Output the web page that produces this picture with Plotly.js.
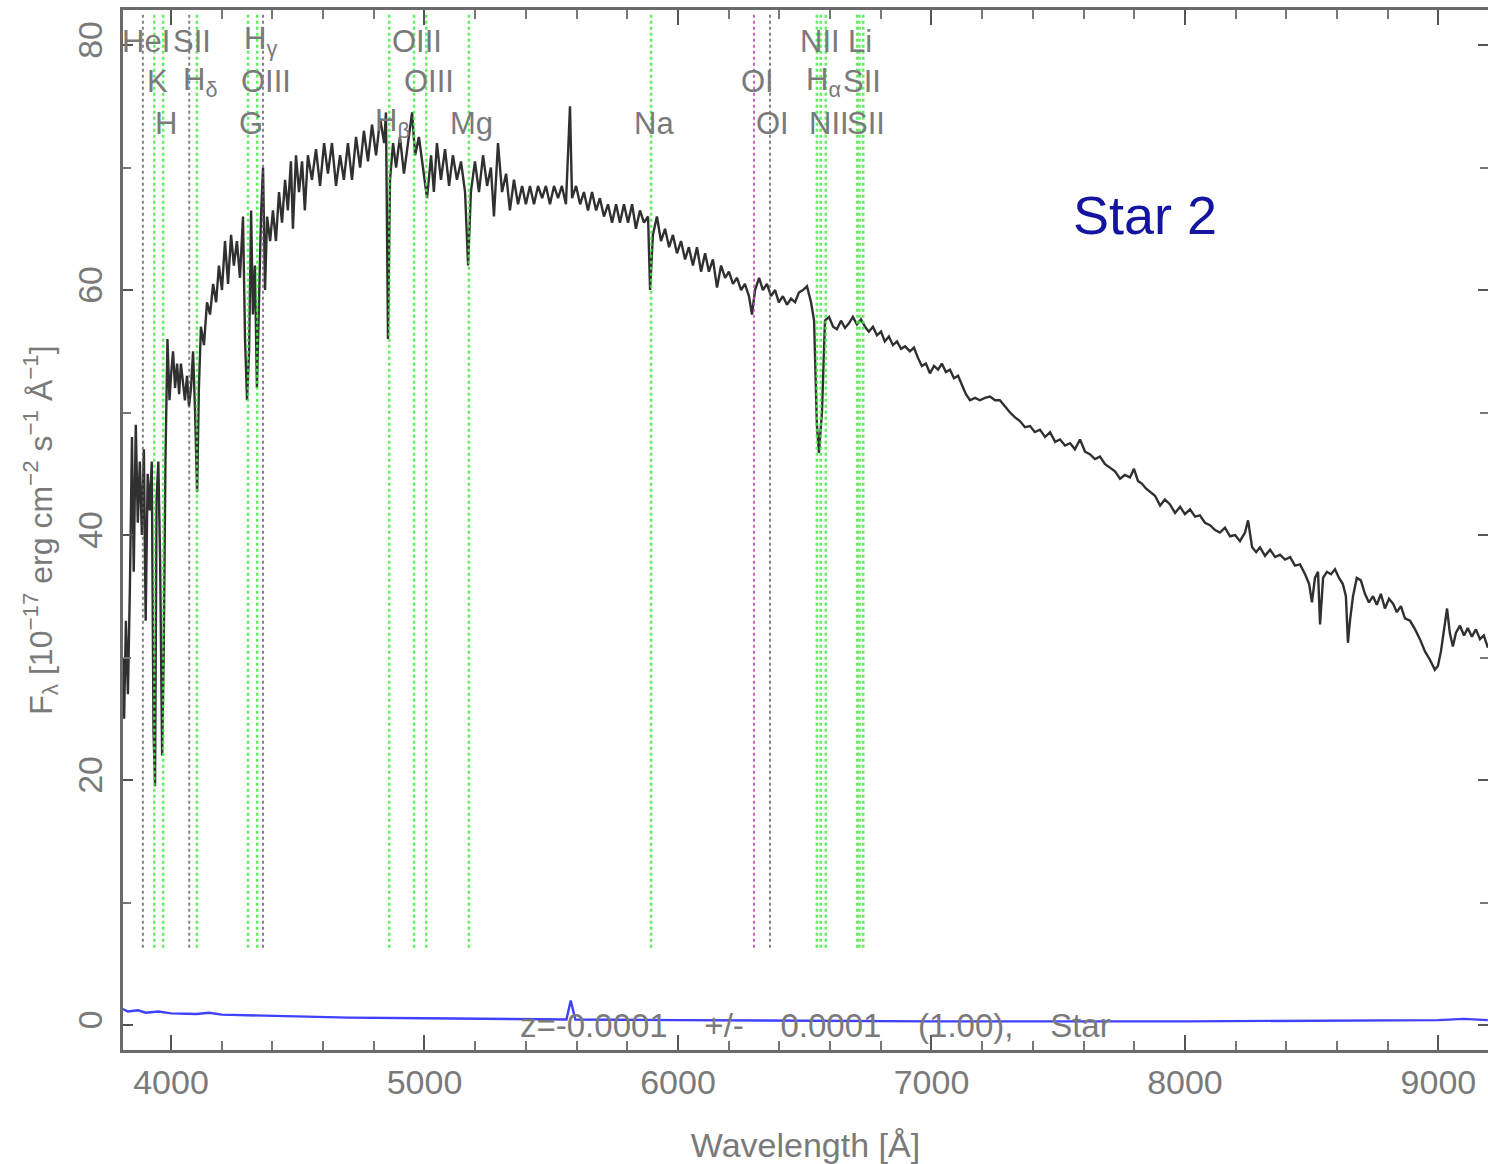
<!DOCTYPE html>
<html>
<head>
<meta charset="utf-8">
<script src="https://cdn.plot.ly/plotly-3.0.1.min.js"></script>
<style>
html,body{margin:0;padding:0;background:#fff;}
#chart{width:1488px;height:1164px;}
</style>
</head>
<body>
<div id="chart"></div>
<script>
// ---- Spectrum (wavelength in Å, flux in 1e-17 erg/cm2/s/Å) ----
const specWave = [3811,3815,3822,3830,3838,3846,3853,3861,3869,3877,3885,3893,3900,3908,3916,3924,3931,3937,3943,3950,3957,3965,3971,3978,3986,3994,
4000,4008,4016,4024,4032,4039,4047,4055,4063,4071,4079,4087,4095,4103,4110,4118,4130,4142,4154,4166,4178,4189,4201,4213,4225,4237,4248,4260,4272,4284,4292,4300,4308,4316,4323,4331,4339,4347,4355,4363,4371,4379,4391,4402,4414,4426,4438,4450,4461,4473,4481,4493,4505,4517,4528,4540,4556,4572,4588,4604,4619,4635,4651,4667,4682,4698,4714,4730,4746,4761,4777,4793,4809,4825,4841,4848,4856,4864,4876,4888,4903,4919,4935,4951,4963,4978,4994,5010,5026,5037,5049,5065,5081,5097,5112,5128,5144,5160,5172,5183,5199,5215,5231,5247,5262,5274,5290,5306,5322,5337,5353,5369,5385,5400,5416,5432,5448,5464,5479,5495,5511,5527,5542,5558,5574,5582,5598,5614,5629,5645,5661,5677,5692,5708,5724,5740,5756,5771,5787,5803,5819,5834,5850,5866,5882,5890,5901,5917,5933,5949,5965,5980,5996,6012,6028,6043,6059,6075,6091,6107,6122,6138,6154,6170,6186,6201,6217,6233,6249,6264,6280,6292,6304,6320,6335,6351,6367,6383,6398,6414,6430,6446,6462,6477,6493,6509,6525,6537,6548,6556,6568,6580,6596,6612,6627,6643,6659,6675,6690,6706,6722,6738,6753,6769,6785,6801,6816,6832,6848,6864,6880,6896,6915,6931,6946,6962,6978,6994,7010,7026,7041,7057,7073,7089,7105,7120,7136,7152,7172,7191,7211,7231,7251,7270,7290,7310,7330,7349,7369,7389,7408,7428,7448,7468,7488,7507,7527,7547,7566,7586,7606,7625,7645,7665,7684,7704,7724,7744,7763,7783,7799,7815,7830,7846,7862,7882,7902,7921,7941,7961,7981,8000,8020,8040,8059,8079,8099,8119,8138,8158,8178,8198,8217,8237,8249,8265,8281,8296,8316,8336,8356,8375,8395,8415,8434,8454,8474,8490,8501,8513,8525,8533,8545,8560,8576,8592,8608,8623,8635,8643,8651,8663,8678,8694,8710,8726,8742,8757,8773,8789,8805,8821,8836,8852,8868,8888,8908,8927,8947,8967,8986,8998,9010,9022,9034,9045,9057,9069,9085,9101,9116,9132,9148,9164,9179,9195];
const specFlux = [30,25,33,27,36,48,37,49,41,46,40,47,33,45,42,46,24,19.5,43,46,38,22,30,46,56,51,
53,55,52,54,51.5,54,52.5,51,53,50.5,52,55,50,43.5,52,57,55.5,59,58,60.5,59,62,60,64,60.5,64.5,62,64,61,66,56,51,55,66.5,58,62,52,60,66,70,60,66,64,66.5,64,68,65.5,69,66.5,70.5,65,71,68,70.5,66.5,71,69,71.5,68.5,72,69.5,72,68.5,71,69,72,69,72.5,70,73,70.5,73.5,71,74,72,74.5,56,69,72,70,72.5,69.5,72,74.5,71,72.5,70,67.5,71,68,72,69,71.5,68.5,71,69,70.5,68,62,68,70.5,68,71,68.5,70,66,72,68,69.5,66.5,69,67,68.5,67,68.5,67,68.5,67.5,68.5,67,68.5,67.5,68.5,67,75,67.5,68.5,67,68,66.5,68,66.5,67.5,66,67,65.5,67,65.5,67,65.5,67,65,66.5,65.5,66,60,64.5,66,64,65,63.5,64.5,63,64,62.5,63.5,62,63.5,61.5,63,61.5,62.5,60.2,62,61,61.5,60.5,61,60,60.5,59.5,58,60,61,60,60.5,59.5,60,59,59.5,58.8,59.3,59,59.8,60,60.3,59,57.5,49,46.7,50,57.5,57.8,57,56.8,57.5,56.9,57.3,57.8,57.2,57.6,57,56.6,57,56.3,56.6,55.8,56.2,55.5,55.8,55.2,55.4,55,55.3,54.5,53.8,54,53.2,53.8,53.5,54,53.3,53.5,52.8,53,52.3,51.5,51,51.2,51,51.2,51.3,51,51,50.5,50,49.6,49.3,48.8,48.9,48.4,48.6,48,48.4,47.6,47.8,47.3,47.5,47,47.8,46.8,46.6,46.2,46.4,45.8,45.5,45.2,44.6,44.9,44.7,45.4,44.4,44.2,43.8,43.5,43.2,42.4,42.9,42.5,41.8,42.3,41.7,42.1,41.5,41.6,41,40.8,40.4,40.2,40.6,39.9,40,39.5,40.2,41.2,39,38.6,39,38.3,38.8,38.2,38.4,38,38.2,37.5,37.6,36.8,36,34.5,36.5,37,32.7,36.5,37,36.8,37.2,36.5,36,35,31.2,33,35,36.5,36.3,35.2,34.5,35,34.3,35.2,34,34.8,34.4,33.7,34.2,33.2,33,32.3,31.5,30.5,29.8,29,29.3,30.5,32.5,34,32,30.9,32,32.6,31.8,32.4,31.7,32.3,31.5,31.8,30.8];

// ---- Error / sky spectrum (blue) ----
const errWave = [3810,3830,3870,3900,3950,4000,4100,4150,4200,4300,4400,4500,4700,5000,5300,5560,5577,5595,6000,6500,7000,8000,8500,9000,9100,9195];
const errFlux = [1.3,1.1,1.2,1.0,1.1,0.95,0.9,1.0,0.85,0.8,0.7,0.65,0.6,0.55,0.5,0.45,2.0,0.45,0.4,0.35,0.3,0.3,0.35,0.4,0.5,0.4];

// ---- Spectral line markers ----
const lineWave  = [3889,3934,3969,4072,4102,4304,4340,4363,4861,4959,5007,5175,5894,6300,6363,6548,6563,6583,6707,6716,6731];
const lineLabel = ['HeI','K','H','SII','H<sub>δ</sub>','G','H<sub>γ</sub>','OIII','H<sub>β</sub>','OIII','OIII','Mg','Na','OI','OI','NII','H<sub>α</sub>','NII','Li','SII','SII'];
const lineRow   = [0,1,2,0,1,2,0,1,2,0,1,2,2,1,2,0,1,2,0,1,2];
const lineKind  = ['abs','em','em','abs','em','em','em','abs','em','em','em','em','em','sky','abs','em','em','em','em','em','em'];

// ---- Text ----
const xTitle = 'Wavelength [Å]';
const yTitle = 'F<sub>λ</sub> [10<sup>−17</sup> erg cm<sup>−2</sup> s<sup>−1</sup> Å<sup>−1</sup>]';
const fitText = 'z=-0.0001&nbsp;&nbsp;&nbsp; +/-&nbsp;&nbsp;&nbsp; 0.0001&nbsp;&nbsp;&nbsp; (1.00),&nbsp;&nbsp;&nbsp; Star';
const objName = 'Star 2';

const FONT = 'Liberation Sans, Arial, sans-serif';
const GRAY = '#7a7a7a';

const kindStyle = {
  em:  {color:'rgba(70,235,70,0.85)', width:2.5},
  abs: {color:'rgba(90,90,90,0.75)', width:2},
  sky: {color:'rgba(190,70,190,0.85)', width:2}
};
const LINE_BOTTOM = 6.3, LINE_TOP = 82.5;
const rowY = [80.3, 77.0, 73.6];

const traces = [];
traces.push({
  x: specWave, y: specFlux, type:'scatter', mode:'lines',
  line:{color:'#303030', width:2.4}, hoverinfo:'skip', showlegend:false
});
traces.push({
  x: errWave, y: errFlux, type:'scatter', mode:'lines',
  line:{color:'#4040ff', width:2.4}, hoverinfo:'skip', showlegend:false
});
Object.keys(kindStyle).forEach(k => {
  const xs = [], ys = [];
  lineWave.forEach((w,i) => {
    if (lineKind[i] === k) { xs.push(w, w, null); ys.push(LINE_BOTTOM, LINE_TOP, null); }
  });
  traces.push({
    x: xs, y: ys, type:'scatter', mode:'lines',
    line:{color:kindStyle[k].color, width:kindStyle[k].width, dash:'dot'},
    hoverinfo:'skip', showlegend:false, connectgaps:false
  });
});

const annotations = lineWave.map((w,i) => ({
  x: w, y: rowY[lineRow[i]], xref:'x', yref:'y',
  text: lineLabel[i], showarrow:false, xanchor:'center', yanchor:'middle', xshift:3,
  font:{family:FONT, size:31, color:GRAY}
}));
annotations.push({
  x: 5369, y: 0, xref:'x', yref:'y', text: fitText, showarrow:false,
  xanchor:'left', yanchor:'middle',
  font:{family:FONT, size:33, color:GRAY}
});
annotations.push({
  x: 7842, y: 66.1, xref:'x', yref:'y', text: objName, showarrow:false,
  xanchor:'center', yanchor:'middle',
  font:{family:FONT, size:54, color:'#1414a0'}
});

const layout = {
  width:1488, height:1164,
  margin:{l:123, r:0, t:10, b:114},
  paper_bgcolor:'#fff', plot_bgcolor:'#fff',
  showlegend:false,
  font:{family:FONT, color:GRAY},
  xaxis:{
    range:[3810.6, 9195.6], dtick:1000, tick0:4000,
    showgrid:false, zeroline:false,
    showline:true, linecolor:'#6a6a6a', linewidth:3, mirror:'ticks',
    ticks:'inside', ticklen:15, tickwidth:2, tickcolor:'#555',
    minor:{dtick:200, ticks:'inside', ticklen:9, tickwidth:2, tickcolor:'#777'},
    tickfont:{family:FONT, size:34, color:GRAY},
    ticklabelstandoff:0,
    title:{text:xTitle, font:{family:FONT, size:34, color:GRAY}, standoff:34}
  },
  yaxis:{
    range:[-2.04, 82.86], dtick:20, tick0:0,
    showgrid:false, zeroline:false,
    showline:true, linecolor:'#6a6a6a', linewidth:3, mirror:'ticks',
    ticks:'inside', ticklen:10, tickwidth:2, tickcolor:'#555',
    minor:{dtick:10, ticks:'inside', ticklen:8, tickwidth:2, tickcolor:'#777'},
    tickangle:-90,
    tickfont:{family:FONT, size:34, color:GRAY},
    ticklabelstandoff:4,
    title:{text:yTitle, font:{family:FONT, size:32, color:GRAY}, standoff:10}
  },
  annotations: annotations
};

Plotly.newPlot('chart', traces, layout, {displayModeBar:false, staticPlot:true});
</script>
</body>
</html>
